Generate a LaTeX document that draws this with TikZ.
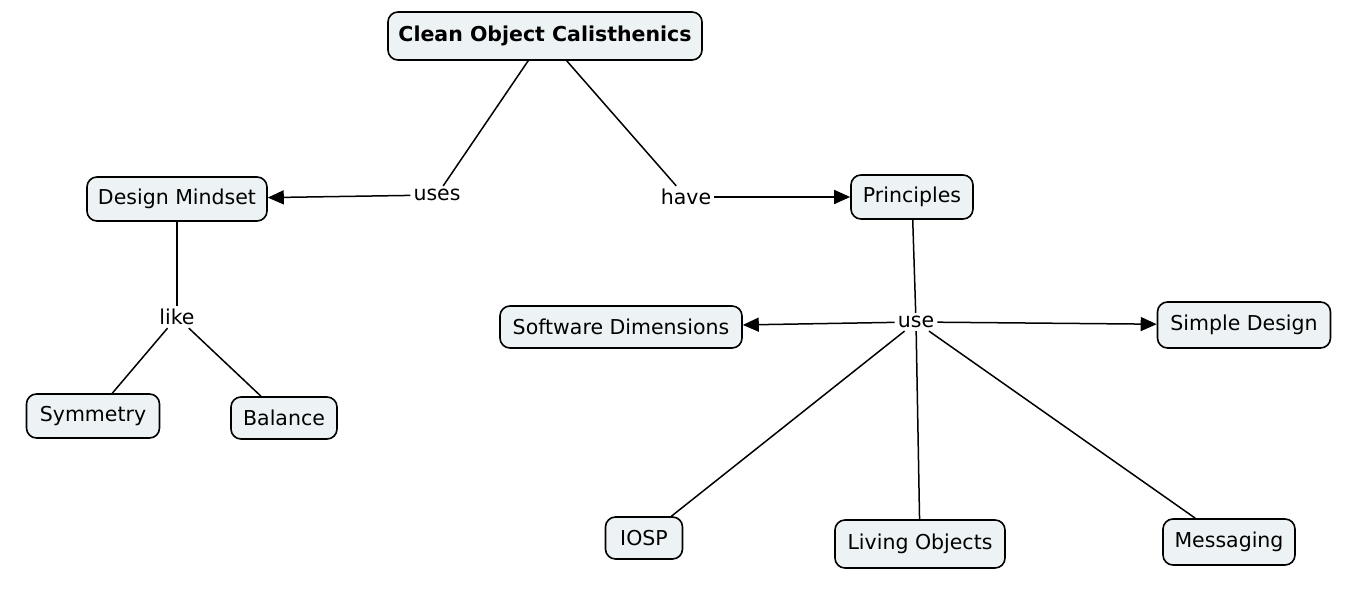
\documentclass[tikz,border=0pt]{standalone}
\usepackage{fontspec}
\setmainfont{DejaVu Sans}
\usetikzlibrary{arrows.meta}
\definecolor{boxfill}{HTML}{EDF3F5}
\tikzset{
  concept/.style={draw=black, line width=1.6pt, rounded corners=10pt, fill=boxfill,
    font=\fontsize{20.5}{24}\selectfont, minimum height=44pt, inner xsep=4pt, align=center},
  linkword/.style={font=\fontsize{20.5}{24}\selectfont, inner sep=3pt, fill=white},
  conn/.style={line width=1.5pt},
  arr/.style={conn, -{Triangle[length=16pt,width=14pt]}}
}
\begin{document}
\begin{tikzpicture}[x=1pt,y=-1pt]
\useasboundingbox[fill=white] (0,0) rectangle (1350,591);
% concepts
\node[concept, font=\fontsize{20.5}{24}\selectfont\bfseries, minimum width=314pt, minimum height=48pt] (title) at (545,36) {Clean Object Calisthenics};
\node[concept, minimum width=180pt] (dm) at (177,199) {Design Mindset};
\node[concept, minimum width=122pt] (pr) at (912,197) {Principles};
\node[concept, minimum width=242pt, minimum height=42pt] (sd) at (621,327) {Software Dimensions};
\node[concept, minimum width=173pt, minimum height=46pt] (simple) at (1244,325) {Simple Design};
\node[concept, minimum width=133pt] (sym) at (93,416) {Symmetry};
\node[concept, minimum width=106pt, minimum height=42pt] (bal) at (284,418) {Balance};
\node[concept, minimum width=77pt, minimum height=42pt] (iosp) at (644,538) {IOSP};
\node[concept, minimum width=170pt, minimum height=48pt] (living) at (920,544) {Living Objects};
\node[concept, minimum width=132pt, minimum height=46pt] (msg) at (1229,542) {Messaging};
% linking words
\node[linkword] (uses) at (437,195) {uses};
\node[linkword] (have) at (686,197) {have};
\node[linkword] (like) at (177,317) {like};
\node[linkword] (use) at (916,322) {use};
% connectors
\draw[conn] (title) -- (uses);
\draw[arr] (uses) -- (dm);
\draw[conn] (title) -- (have);
\draw[arr] (have) -- (pr);
\draw[conn] (dm) -- (like);
\draw[conn] (like) -- (sym);
\draw[conn] (like) -- (bal);
\draw[conn] (pr) -- (use);
\draw[arr] (use) -- (sd);
\draw[arr] (use) -- (simple);
\draw[conn] (use) -- (iosp);
\draw[conn] (use) -- (living);
\draw[conn] (use) -- (msg);
\end{tikzpicture}
\end{document}
